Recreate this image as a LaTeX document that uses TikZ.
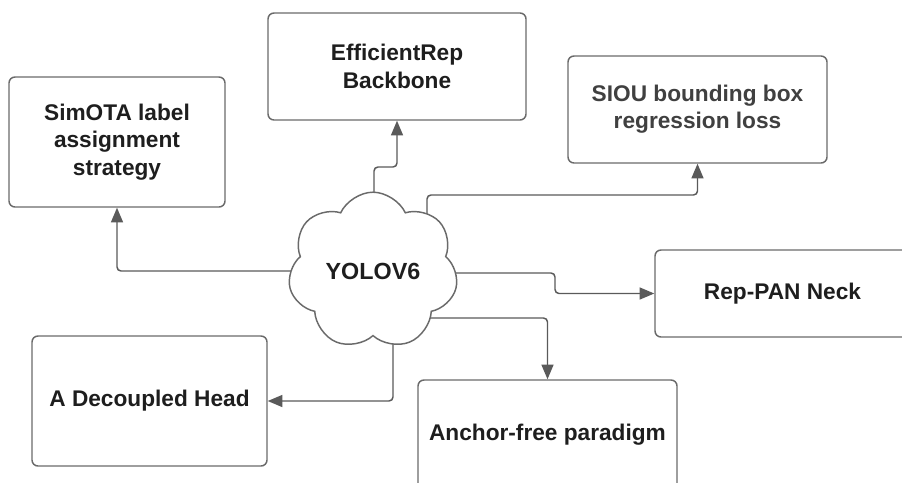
\documentclass[tikz,border=0pt]{standalone}
\usepackage{fontspec}
\setmainfont{Liberation Sans}
\usetikzlibrary{shapes.symbols,arrows.meta,backgrounds}
\newlength\pxu
\setlength\pxu{0.75pt}
\definecolor{edgegray}{HTML}{6A6A6A}
\definecolor{linkgray}{HTML}{5A5A5A}
\definecolor{inkdark}{HTML}{1E1E1E}
\tikzset{
  topic/.style={draw=edgegray, line width=1.1pt, rounded corners=4.5pt, fill=white,
    align=center, inner sep=0pt, text=inkdark,
    font=\fontsize{17pt}{20.5pt}\selectfont\bfseries},
  hub/.style={cloud, cloud puffs=7, cloud puff arc=130, draw=edgegray, line width=1.1pt,
    fill=white, inner sep=0pt, text=inkdark,
    font=\fontsize{17.5pt}{21pt}\selectfont\bfseries},
  link/.style={draw=linkgray, line width=1.1pt, rounded corners=3pt,
    -{Triangle[length=11pt,width=9pt]}},
}
\begin{document}
\begin{tikzpicture}[x=0.75pt, y=-0.75pt]
  \useasboundingbox (0,0) rectangle (902,482);

  % central cloud
  \node[hub, minimum width=170\pxu, minimum height=128\pxu] (yolo) at (373,271) {YOLOV6};

  % surrounding topics
  \node[topic, minimum width=216\pxu, minimum height=130\pxu] (simota) at (117,142)
    {SimOTA label\\assignment\\strategy};
  \node[topic, minimum width=258\pxu, minimum height=107\pxu] (eff) at (397,66.5)
    {EfficientRep\\Backbone};
  \node[topic, minimum width=259\pxu, minimum height=107\pxu, text=inkdark!85] (siou) at (697.5,109.5)
    {SIOU bounding box\\regression loss};
  \node[topic, minimum width=255\pxu, minimum height=87\pxu] (reppan) at (782.5,293.5)
    {Rep-PAN Neck};
  \node[topic, minimum width=235\pxu, minimum height=130\pxu] (dec) at (149.5,401)
    {A Decoupled Head};
  \node[topic, minimum width=259\pxu, minimum height=110\pxu] (anchor) at (547.5,435)
    {\raisebox{3.75pt}{Anchor-free paradigm}};

  % page and connectors, drawn behind the nodes
  \begin{scope}[on background layer]
    \fill[white] (0,0) rectangle (902,482);
    \draw[link] (yolo.center) -| (simota.south);
    \draw[link] (yolo.center) ++(1,0) -- ++(0,-104) -| (eff.south);
    \draw[link] (yolo.center) ++(54,0) -- ++(0,-76) -| (siou.south);
    \draw[link] (yolo.center) ++(0,2) -- ++(182,0) |- (reppan.west);
    \draw[link] (yolo.center) ++(0,47) -| (anchor.north);
    \draw[link] (yolo.center) ++(20,0) |- (dec.east);
  \end{scope}
\end{tikzpicture}
\end{document}
